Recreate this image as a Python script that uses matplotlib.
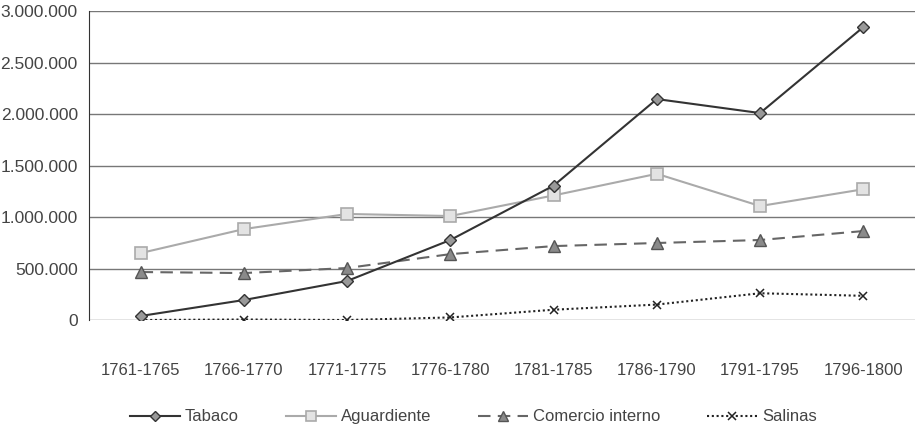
import matplotlib.pyplot as plt
from matplotlib.ticker import FuncFormatter

periodos = ["1761-1765", "1766-1770", "1771-1775", "1776-1780",
            "1781-1785", "1786-1790", "1791-1795", "1796-1800"]
tabaco = [39000, 194000, 379000, 777000, 1305000, 2146000, 2010000, 2845000]
aguardiente = [650000, 883000, 1030000, 1010000, 1210000, 1420000, 1107000, 1270000]
comercio = [466000, 456000, 505000, 640000, 718000, 748000, 777000, 864000]
salinas = [0, 5000, 0, 25000, 100000, 150000, 260000, 235000]

plt.rcParams['font.family'] = ['Liberation Sans', 'DejaVu Sans']

fig = plt.figure(figsize=(9.19, 4.28), dpi=100)
ax = fig.add_axes([0.0968, 0.2523, 0.8988, 0.7217])

x = range(len(periodos))
ax.plot(x, tabaco, color='#333333', lw=1.5, marker='D', ms=6.5,
        mfc='#999999', mec='#333333', mew=1, label='Tabaco', zorder=5)
ax.plot(x, aguardiente, color='#aaaaaa', lw=1.5, marker='s', ms=8,
        mfc='#e3e3e3', mec='#aaaaaa', mew=1.2, label='Aguardiente', zorder=4)
ax.plot(x, comercio, color='#666666', lw=1.5, ls=(0, (6, 3.5)), marker='^', ms=9,
        mfc='#8a8a8a', mec='#555555', mew=1, label='Comercio interno', zorder=4)
ax.plot(x, salinas, color='#222222', lw=1.5, ls=(0, (1, 1.3)), marker='x', ms=6,
        mec='#222222', mew=1.1, label='Salinas', zorder=4)

ax.set_xlim(-0.5, 7.5)
ax.set_ylim(0, 3000000)
ax.set_yticks(range(0, 3000001, 500000))
ax.yaxis.set_major_formatter(FuncFormatter(lambda v, p: f"{int(v):,}".replace(",", ".")))
ax.set_xticks(list(x))
ax.set_xticklabels(periodos)
ax.grid(axis='y', color='#777777', lw=1)
ax.set_axisbelow(True)
for s in ['top', 'right', 'bottom']:
    ax.spines[s].set_visible(False)
ax.spines['left'].set_color('#333333')
ax.tick_params(axis='x', length=0, pad=31, labelsize=12, labelcolor='#444444')
ax.tick_params(axis='y', length=0, pad=8, labelsize=12.5, labelcolor='#444444')

fig.legend(loc='center', bbox_to_anchor=(0.515, 0.026), ncol=4, frameon=False,
           fontsize=12, columnspacing=2.8, handlelength=3, handletextpad=0.3,
           markerscale=0.85, labelcolor='#444444')

fig.savefig('out.png', dpi=100)
